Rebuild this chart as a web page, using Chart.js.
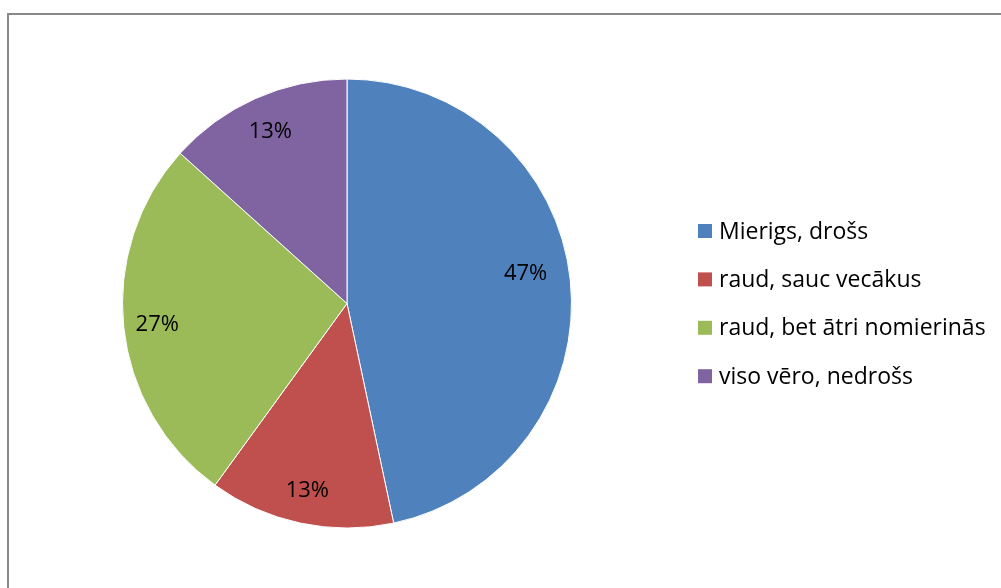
<!DOCTYPE html>
<html>
<head>
<meta charset="utf-8">
<script src="https://cdn.jsdelivr.net/npm/chart.js@4"></script>
<style>
  html, body { margin: 0; padding: 0; background: #fff; }
  #wrap { position: relative; width: 1001px; height: 588px; }
</style>
</head>
<body>
<div id="wrap"><canvas id="myChart" width="1001" height="588"></canvas></div>
<script>
const labels = ["Mierigs, drošs", "raud, sauc vecākus", "raud, bet ātri nomierinās", "viso vēro, nedrošs"];
const values = [7, 2, 4, 2];
const colors = ["#4F81BD", "#C0504D", "#9BBB59", "#8064A2"];
const fontFamily = "'Open Sans', 'Noto Sans', sans-serif";

// frame like the spreadsheet chart border (top + left visible)
const framePlugin = {
  id: "frame",
  beforeDraw(chart) {
    const { ctx } = chart;
    ctx.save();
    ctx.strokeStyle = "#898989";
    ctx.lineWidth = 2;
    ctx.beginPath();
    ctx.moveTo(8, 588);
    ctx.lineTo(8, 14);
    ctx.lineTo(1001, 14);
    ctx.stroke();
    ctx.restore();
  },
};

// percentage labels inside slices
const labelNudge = [{ r: 0.807, a: -3.7 }, { r: 0.85, a: 0 }, { r: 0.85, a: 0 }, { r: 0.84, a: 0 }];
const pctPlugin = {
  id: "pct",
  afterDatasetsDraw(chart) {
    const { ctx } = chart;
    const meta = chart.getDatasetMeta(0);
    const total = values.reduce((a, b) => a + b, 0);
    ctx.save();
    ctx.font = "22px " + fontFamily;
    ctx.fillStyle = "#000";
    ctx.textAlign = "center";
    ctx.textBaseline = "middle";
    meta.data.forEach((arc, i) => {
      const { x, y, startAngle, endAngle, outerRadius } = arc.getProps(["x", "y", "startAngle", "endAngle", "outerRadius"], true);
      const mid = (startAngle + endAngle) / 2 + (labelNudge[i].a * Math.PI) / 180;
      const r = outerRadius * labelNudge[i].r;
      const pct = Math.round((values[i] / total) * 100) + "%";
      ctx.fillText(pct, x + Math.cos(mid) * r, y + Math.sin(mid) * r + 1);
    });
    ctx.restore();
  },
};

// legend on the right
const legendPlugin = {
  id: "sideLegend",
  afterDraw(chart) {
    const { ctx } = chart;
    ctx.save();
    ctx.font = "23px " + fontFamily;
    ctx.textBaseline = "middle";
    labels.forEach((lab, i) => {
      const cy = 231 + i * 48.4;
      ctx.fillStyle = colors[i];
      ctx.fillRect(698, cy - 7, 14, 14);
      ctx.fillStyle = "#000";
      ctx.fillText(lab, 719, cy + 1);
    });
    ctx.restore();
  },
};

const canvas = document.getElementById("myChart");
new Chart(canvas, {
  type: "pie",
  data: {
    labels,
    datasets: [
      {
        data: values,
        backgroundColor: colors,
        borderColor: "#ffffff",
        borderWidth: 1,
      },
    ],
  },
  options: {
    responsive: false,
    animation: false,
    layout: { padding: { left: 122, right: 429, top: 78, bottom: 59 } },
    plugins: {
      legend: { display: false },
      tooltip: { enabled: false },
    },
  },
  plugins: [framePlugin, pctPlugin, legendPlugin],
});
</script>
</body>
</html>
